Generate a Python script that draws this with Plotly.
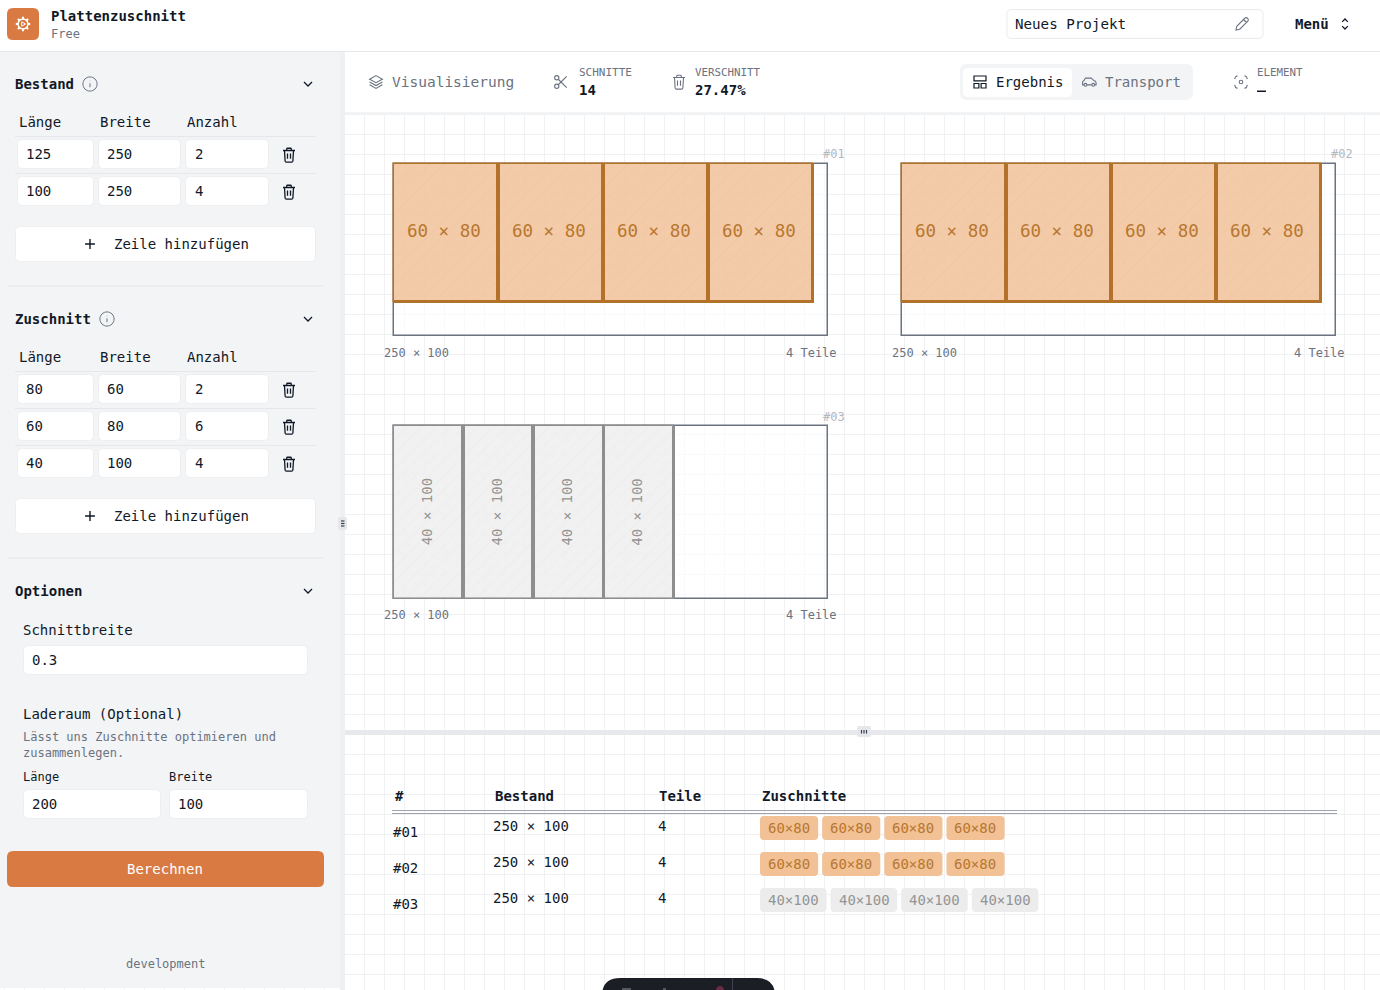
"""Plattenzuschnitt screen: cut plates, result table and the input sidebar."""
import math
import re
import plotly.graph_objects as go

# data
stock_length = [125, 100]
stock_width = [250, 250]
stock_count = [2, 4]
cut_length = [80, 60, 40]
cut_width = [60, 80, 100]
cut_count = [2, 6, 4]
kerf = 0.3
cargo_length = "200"
cargo_width = "100"
cuts_total = "14"
waste = "27.47%"

plate_ids = ["#01", "#02", "#03"]
plate_w = [250, 250, 250]
plate_h = [100, 100, 100]
plate_parts = [4, 4, 4]
part_w = [60, 60, 40]
part_h = [80, 80, 100]
part_kind = ["orange", "orange", "grey"]

INK = "#111827"
MUTED = "#6b7280"
LINE = "#e5e7eb"
PANEL = "#f3f4f6"
ACCENT = "#d97a43"
FONT = "DejaVu Sans Mono"
CHAR = 8.43  # width of one char at 14px

STYLES = {
    "orange": dict(fill="rgba(241,190,146,0.8)", stroke="#b3722a", text="#b8772f", chip="#f2c195", hatch="#e8bd95"),
    "grey": dict(fill="rgba(237,237,237,0.8)", stroke="#8e8e8e", text="#949494", chip="#ececec", hatch="#e0e0e0"),
}

shapes = []
notes = []


def label(x, y, text, size=14, color=INK, bold=False, anchor="left", angle=0):
    notes.append(dict(x=x, y=y, text=f"<b>{text}</b>" if bold else str(text), showarrow=False,
                      xanchor=anchor, yanchor="middle", textangle=angle, borderpad=0, borderwidth=0,
                      font=dict(family=FONT, size=size, color=color)))


def rounded(x0, y0, x1, y1, r):
    return (f"M{x0+r} {y0} L{x1-r} {y0} Q{x1} {y0} {x1} {y0+r} L{x1} {y1-r} Q{x1} {y1} {x1-r} {y1} "
            f"L{x0+r} {y1} Q{x0} {y1} {x0} {y1-r} L{x0} {y0+r} Q{x0} {y0} {x0+r} {y0} Z")


def box(x0, y0, x1, y1, r=0, fill="white", line=None, width=1):
    shapes.append(dict(type="path", path=rounded(x0, y0, x1, y1, r) if r else
                       f"M{x0} {y0} L{x1} {y0} L{x1} {y1} L{x0} {y1} Z",
                       fillcolor=fill, line=dict(color=line or "rgba(0,0,0,0)", width=width if line else 0)))


def hline(x0, x1, y, color=LINE, width=1):
    shapes.append(dict(type="line", x0=x0, x1=x1, y0=y, y1=y, line=dict(color=color, width=width)))


def ring(cx, cy, r):
    k = 0.5523 * r
    return (f"M{cx-r} {cy} C{cx-r} {cy-k} {cx-k} {cy-r} {cx} {cy-r} C{cx+k} {cy-r} {cx+r} {cy-k} {cx+r} {cy} "
            f"C{cx+r} {cy+k} {cx+k} {cy+r} {cx} {cy+r} C{cx-k} {cy+r} {cx-r} {cy+k} {cx-r} {cy} Z")


def icon(path, cx, cy, size=16, color=INK, width=1.3):
    """Place a path drawn on a 24 unit box around (cx, cy)."""
    s = size / 24
    out, is_x = [], True
    for tok in re.findall(r"[MLQCZ]|-?\d+\.?\d*", path):
        if tok.isalpha():
            out.append(tok)
            is_x = True
        else:
            out.append(f"{(cx if is_x else cy) + (float(tok) - 12) * s:.2f}")
            is_x = not is_x
    shapes.append(dict(type="path", path=" ".join(out), line=dict(color=color, width=width)))


TRASH = ("M4 6 L20 6 M9 6 L9 4 Q9 3 10 3 L14 3 Q15 3 15 4 L15 6 M6 6 L6.8 20 Q7 21.5 8.5 21.5 L15.5 21.5 "
         "Q17 21.5 17.2 20 L18 6 M10 10 L10 17 M14 10 L14 17")
CHEVRON = "M6 9 L12 15 L18 9"
PLUS = "M5 12 L19 12 M12 5 L12 19"
PENCIL = "M4 20 L5 15 L16 4 Q17.5 3 19 4 L20 5 Q21 6.5 20 8 L9 19 Z M14 6 L18 10"
LAYERS = "M12 3 L21 8 L12 13 L3 8 Z M3 12 L12 17 L21 12 M3 16 L12 21 L21 16"
SCISSORS = ring(6, 6, 3) + " " + ring(6, 18, 3) + " M8.1 8.1 L20 20 M8.1 15.9 L20 4"
TILES = ("M4 4 L20 4 L20 10.5 L4 10.5 Z M4 14 L10.5 14 L10.5 20 L4 20 Z M13.5 14 L20 14 L20 20 L13.5 20 Z")
CAR = ("M5 16 L3 16 L3 12 Q3 11 5 10 L7 6.5 L15 6.5 L19 10 Q22 11 22 13 L22 16 L20 16 M9 16 L16 16 "
       + ring(7, 16, 2) + " " + ring(18, 16, 2))
FOCUS = ("M3 8 Q3.5 4 7 3 M17 3 Q20.5 4 21 8 M21 16 Q20.5 20 17 21 M7 21 Q3.5 20 3 16 " + ring(12, 12, 2.5))
UPDOWN = "M8 9 L12 5 L16 9 M8 15 L12 19 L16 15"
INFO = ring(12, 12, 10) + " M12 11 L12 16.5 M12 7.5 L12 8"


def field(x0, x1, y0, value, text_x=None):
    box(x0, y0, x1, y0 + 29, r=5, fill="white", line="#eceef0")
    label(text_x if text_x else x0 + 8, y0 + 14.5, value)


def section_table(head_y, lengths, widths, counts, button_y):
    for x, name in zip([19, 100, 187], ["Länge", "Breite", "Anzahl"]):
        label(x, head_y, name)
    y = head_y + 14.5
    for a, b, c in zip(lengths, widths, counts):
        hline(15, 316, y)
        field(17.5, 93.5, y + 3, a, 26)
        field(98.5, 180.5, y + 3, b, 107)
        field(185.5, 268.5, y + 3, c, 195)
        icon(TRASH, 289, y + 18.5, 18)
        y += 37
    box(15.5, button_y - 0.5, 315.5, button_y + 34.5, r=5, fill="white", line="#eceef0")
    icon(PLUS, 90, button_y + 17, 17, width=1.4)
    label(114, button_y + 17, "Zeile hinzufügen")


# plates are bars on the page's pixel axes
SCALE_X = 1.74
SCALE_Y = 1.725
ORIGINS = [(393.5, 163.5), (901.5, 163.5), (393.5, 426)]
CUT_PX = 3.5  # drawn width of a saw cut

fig = go.Figure()
fig.add_bar(x=[ox + (w * SCALE_X - 1) / 2 for (ox, _), w in zip(ORIGINS, plate_w)],
            y=[h * SCALE_Y for h in plate_h],
            base=[oy for _, oy in ORIGINS],
            width=[w * SCALE_X - 1 for w in plate_w],
            marker=dict(color="rgba(255,255,255,0.55)", line=dict(color=MUTED, width=1.5)),
            hoverinfo="skip", showlegend=False)

for (ox, oy), pid, pw, ph, n, w, h, kind in zip(ORIGINS, plate_ids, plate_w, plate_h, plate_parts,
                                                part_w, part_h, part_kind):
    st = STYLES[kind]
    step = (w + kerf) * SCALE_X
    fig.add_bar(x=[ox + step * (i + 0.5) for i in range(n)],
                y=[h * SCALE_Y] * n,
                base=[oy] * n,
                width=[step] * n,
                marker=dict(color=st["fill"], line=dict(color=st["stroke"], width=1.5),
                            pattern=dict(shape="/", size=10, solidity=0.08, fgcolor=st["hatch"], bgcolor=st["fill"])),
                hoverinfo="skip", showlegend=False)
    # saw cuts: right of each part, and under the row when it does not fill the plate
    fig.add_bar(x=[ox + step * (i + 1) - 0.5 for i in range(n)],
                y=[h * SCALE_Y] * n,
                base=[oy] * n,
                width=[CUT_PX] * n,
                marker=dict(color=st["stroke"], line=dict(width=0)),
                hoverinfo="skip", showlegend=False)
    if h < ph:
        fig.add_bar(x=[ox + step * n / 2], y=[CUT_PX], base=[oy + h * SCALE_Y - CUT_PX / 2],
                    width=[step * n + 1.5],
                    marker=dict(color=st["stroke"], line=dict(width=0)),
                    hoverinfo="skip", showlegend=False)
    for i in range(n):
        cx = ox + step * (i + 0.5)
        cy = oy + h * SCALE_Y / 2
        if h > w and h >= pw * 0.4:
            label(cx - 2, cy - 0.5, f"{w} × {h}", size=14, color=st["text"], anchor="center", angle=-90)
        else:
            label(cx - 2, cy - 1.5, f"{w} × {h}", size=17.5, color=st["text"], anchor="center")
    right = ox + pw * SCALE_X
    bottom = oy + ph * SCALE_Y
    label(right + 16, oy - 9.5, pid, size=12, color="#b4b7bd", anchor="right")
    label(ox - 10, bottom + 16.5, f"{pw} × {ph}", size=12, color=MUTED)
    label(right + 8.5, bottom + 16.5, f"{n} Teile", size=12, color=MUTED, anchor="right")

# result table
hline(392, 1337, 810.5, "#9ca3af")
hline(392, 1337, 813.5, "#9ca3af")
for x, name in zip([395, 495, 659, 762], ["#", "Bestand", "Teile", "Zuschnitte"]):
    label(x, 796, name, bold=True)
for r, (pid, pw, ph, n, w, h, kind) in enumerate(zip(plate_ids, plate_w, plate_h, plate_parts,
                                                    part_w, part_h, part_kind)):
    top = 816 + 36 * r
    label(393, top + 16, pid)
    label(493, top + 10, f"{pw} × {ph}")
    label(658, top + 10, n)
    st = STYLES[kind]
    x = 760
    text = f"{w}×{h}"
    for _ in range(n):
        chip_w = CHAR * len(text) + 16
        box(x, top, x + chip_w, top + 24, r=4, fill=st["chip"])
        label(x + 8, top + 12, text, color=st["text"])
        x += chip_w + 4

# main area chrome
box(345, 730, 1380, 735, fill="#e8e9ec")
box(857, 726, 871, 737, r=2, fill="#e5e7eb")
for dx in (-2.5, 0, 2.5):
    box(864 + dx - 0.6, 730, 864 + dx + 0.6, 733.5, fill="#374151")
box(602, 978, 775, 1012, r=18, fill="#1c1e26")
shapes.append(dict(type="line", x0=732.5, x1=732.5, y0=978, y1=990, line=dict(color="#3d424d", width=1)))
shapes.append(dict(type="path", path=ring(720, 990, 4), fillcolor="#6b2a45", line=dict(width=0)))
box(622, 988, 631, 990, fill="#55585f")
box(663, 988, 666, 990, fill="#55585f")

# toolbar
box(345, 52, 1380, 112, fill="white")
box(345, 112, 1380, 114, fill="#f3f4f6")
icon(LAYERS, 376, 82, 17, MUTED, 1.1)
label(392, 82, "Visualisierung", size=14.5, color=MUTED)
icon(SCISSORS, 561, 82, 17, MUTED, 1.1)
label(578.5, 72, "SCHNITTE", size=11, color=MUTED)
label(578.5, 90, cuts_total, bold=True)
icon(TRASH, 679, 82, 18, MUTED, 1.1)
label(695, 72, "VERSCHNITT", size=10.8, color=MUTED)
label(695, 90, waste, bold=True)
box(960, 64, 1193, 100, r=7, fill=PANEL)
box(963, 68, 1072, 97, r=5, fill="white")
icon(TILES, 980, 82, 18, INK, 1.2)
label(996, 82, "Ergebnis")
icon(CAR, 1089, 82, 17, MUTED, 1.1)
label(1105, 82, "Transport", color=MUTED)
icon(FOCUS, 1241, 82, 17, MUTED, 1.1)
label(1257, 72, "ELEMENT", size=10.8, color=MUTED)
box(1257, 90.5, 1266, 92, fill=INK)

# sidebar
box(0, 52, 340, 988, fill=PANEL)
box(340, 52, 345, 990, fill="#eef0f2")
box(338, 517, 347, 530, r=2, fill="#e5e7eb")
for dy in (-2.5, 0, 2.5):
    box(341, 523.5 + dy - 0.6, 344.5, 523.5 + dy + 0.6, fill="#374151")

label(15, 84, "Bestand", bold=True)
icon(INFO, 90, 84, 17, MUTED, 1)
icon(CHEVRON, 308, 84, 16, INK, 1.3)
section_table(122, stock_length, stock_width, stock_count, 227)
hline(8, 324, 286)

label(15, 319, "Zuschnitt", bold=True)
icon(INFO, 107, 319, 17, MUTED, 1)
icon(CHEVRON, 308, 319, 16, INK, 1.3)
section_table(357, cut_length, cut_width, cut_count, 499)
hline(8, 324, 558)

label(15, 591, "Optionen", bold=True)
icon(CHEVRON, 308, 591, 16, INK, 1.3)
label(23, 630, "Schnittbreite")
field(23.5, 307.5, 645.5, str(kerf))
label(23, 714, "Laderaum (Optional)")
label(23, 737, "Lässt uns Zuschnitte optimieren und", size=12, color=MUTED)
label(23, 753, "zusammenlegen.", size=12, color=MUTED)
label(23, 777, "Länge", size=12)
label(169, 777, "Breite", size=12)
field(23.5, 160.5, 789.5, cargo_length)
field(169.5, 307.5, 789.5, cargo_width)
box(7, 851, 324, 887, r=6, fill=ACCENT)
label(165, 869, "Berechnen", color="white", anchor="center")
label(165, 964, "development", size=12, color=MUTED, anchor="center")

# header
box(0, 0, 1380, 51, fill="white")
hline(0, 1380, 51.5)
box(7, 8, 39, 40, r=6, fill=ACCENT)
teeth = []
for i in range(8):
    a = i * math.pi / 4
    teeth.append(f"M{23 + 4.5 * math.cos(a):.2f} {24 + 4.5 * math.sin(a):.2f} "
                 f"L{23 + 7.2 * math.cos(a):.2f} {24 + 7.2 * math.sin(a):.2f}")
shapes.append(dict(type="path", path=" ".join(teeth), line=dict(color="white", width=2)))
shapes.append(dict(type="path", path=ring(23, 24, 5), line=dict(color="white", width=1.4)))
shapes.append(dict(type="path", path="M21.7 21.8 L25.5 24 L21.7 26.2 Z", line=dict(color="white", width=1)))
label(51, 16, "Plattenzuschnitt", bold=True)
label(51, 34, "Free", size=12, color=MUTED)
box(1007, 9.5, 1263, 38.5, r=5, fill="white", line="#e9ebee")
label(1015, 24, "Neues Projekt", size=14.2)
icon(PENCIL, 1242, 24, 18, MUTED, 1.1)
label(1295, 24, "Menü", bold=True)
icon(UPDOWN, 1345, 24, 17, INK, 1.3)

fig.update_layout(
    width=1380, height=990, margin=dict(l=0, r=0, t=0, b=0),
    paper_bgcolor="white", plot_bgcolor="white",
    barmode="overlay", bargap=0, showlegend=False,
    shapes=shapes, annotations=notes,
    xaxis=dict(range=[0, 1380], tick0=344, dtick=20, showgrid=True, gridcolor="#f0f1f3", gridwidth=1,
               zeroline=False, showticklabels=False, ticks="", fixedrange=True),
    yaxis=dict(range=[990, 0], tick0=134, dtick=20, showgrid=True, gridcolor="#f0f1f3", gridwidth=1,
               zeroline=False, showticklabels=False, ticks="", fixedrange=True),
)
fig.write_html("out.html", config={"displayModeBar": False},
               post_script="document.body.style.margin='0';document.body.style.overflow='hidden';")
